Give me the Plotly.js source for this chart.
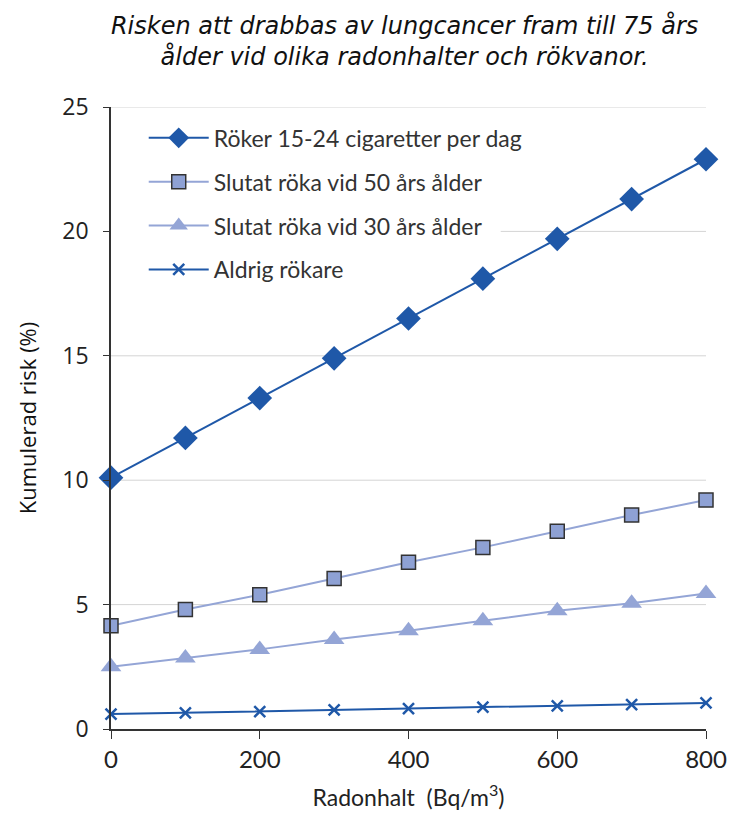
<!DOCTYPE html>
<html><head><meta charset="utf-8">
<script src="https://cdn.plot.ly/plotly-3.0.1.min.js"></script>
<style>body{margin:0;background:#fff}#chart{width:729px;height:814px}</style>
</head><body><div id="chart"></div>
<script>
const radon = [0, 100, 200, 300, 400, 500, 600, 700, 800];
const rokerDag = [10.1, 11.7, 13.3, 14.9, 16.5, 18.1, 19.7, 21.3, 22.9];
const slutat50 = [4.15, 4.8, 5.4, 6.05, 6.7, 7.3, 7.95, 8.6, 9.2];
const slutat30 = [2.5, 2.85, 3.2, 3.6, 3.95, 4.35, 4.75, 5.05, 5.45];
const aldrig = [0.6, 0.65, 0.7, 0.77, 0.82, 0.88, 0.93, 0.98, 1.05];
const seriesNames = ["Röker 15-24 cigaretter per dag", "Slutat röka vid 50 års ålder", "Slutat röka vid 30 års ålder", "Aldrig rökare"];
const xTicks = [0, 200, 400, 600, 800];
const yTicks = [0, 5, 10, 15, 20, 25];

const traces = [
  {x: radon, y: rokerDag, name: seriesNames[0], legendgroup: "a", mode: "lines+markers", cliponaxis: false,
   line: {color: "#1f58a8", width: 2}, marker: {symbol: "diamond", size: 19, color: "#1f58a8"}},
  {x: radon, y: slutat50, name: seriesNames[1], legendgroup: "b", mode: "lines+markers", cliponaxis: false,
   line: {color: "#94a5d6", width: 2}, marker: {symbol: "square", size: 14, color: "#8ea1d4", line: {color: "#333333", width: 1.5}}},
  {x: radon, y: slutat30, name: seriesNames[2], legendgroup: "c", mode: "lines+markers", cliponaxis: false,
   line: {color: "#94a5d6", width: 2}, marker: {symbol: "triangle-up", size: 18, color: "#94a5d6"}},
  {x: radon, y: aldrig, name: seriesNames[3], legendgroup: "d", mode: "lines+markers", cliponaxis: false,
   line: {color: "#1f58a8", width: 2}, marker: {symbol: "x-thin", size: 11, color: "#1f58a8", line: {color: "#1f58a8", width: 2.5}}}
];

// light horizontal gridlines (the one at 20 is hidden behind the legend on the left)
const gridShapes = yTicks.filter(v => v > 0).map(v => ({
  type: "line", layer: "below", xref: "paper", yref: "y",
  x0: v === 20 ? 0.655 : 0, x1: 1, y0: v, y1: v,
  line: {color: "#d4d4d4", width: 1}
}));

const layout = {
  width: 729, height: 814,
  paper_bgcolor: "#fff", plot_bgcolor: "#fff",
  margin: {l: 111, r: 23, t: 107, b: 85},
  title: {text: "<i>Risken att drabbas av lungcancer fram till 75 års<br>ålder vid olika radonhalter och rökvanor.</i>",
          font: {family: "DejaVu Sans", size: 24, color: "#111"}, x: 0.555, xanchor: "center", yref: "container", y: 0.958, yanchor: "top"},
  xaxis: {range: [0, 800], tickvals: xTicks, ticks: "outside", ticklen: 8, tickcolor: "#333", showline: true, linecolor: "#333", linewidth: 1.5,
          showgrid: false, zeroline: false, tickfont: {family: "Lato", size: 24, color: "#222"},
          title: {text: "Radonhalt  (Bq/m<sup>3</sup>)", font: {family: "Lato", size: 23, color: "#222"}, standoff: 18}},
  yaxis: {range: [0, 25], tickvals: yTicks, ticks: "outside", ticklen: 6, tickcolor: "#333", showline: true, linecolor: "#333", linewidth: 1.5,
          showgrid: false, zeroline: false, tickfont: {family: "Open Sans", size: 23, color: "#222"}, ticklabelstandoff: 10,
          title: {text: "Kumulerad risk (%)", font: {family: "Open Sans", size: 22, color: "#111"}, standoff: 20}},
  shapes: gridShapes,
  legend: {x: 0.055, y: 0.985, xanchor: "left", yanchor: "top", bgcolor: "rgba(255,255,255,0)", borderwidth: 0,
           font: {family: "Lato", size: 23, color: "#333"}, tracegroupgap: 11, itemwidth: 60},
  showlegend: true
};
Plotly.newPlot("chart", traces, layout, {displayModeBar: false});
</script></body></html>
